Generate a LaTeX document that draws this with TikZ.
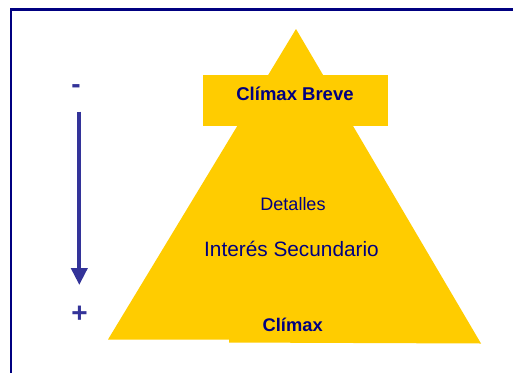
\documentclass[tikz,border=0pt]{standalone}
\usepackage{fontspec}
\setmainfont{Liberation Sans}
\usetikzlibrary{arrows.meta}
\definecolor{gold}{RGB}{255,204,0}
\definecolor{navyc}{RGB}{0,0,128}
\definecolor{arrowc}{RGB}{51,51,153}
\tikzset{
  frame/.style={draw=navyc, line width=2.6pt},
  shapefill/.style={fill=gold, draw=none},
  lbl/.style={text=navyc, inner sep=0pt, anchor=base},
  sign/.style={text=arrowc, inner sep=0pt, anchor=base, font=\bfseries\fontsize{28}{30}\selectfont},
  axis/.style={draw=arrowc, line width=4pt, -{Triangle[length=17pt,width=16pt]}}
}
\begin{document}
\begin{tikzpicture}[x=1pt,y=-1pt]
\useasboundingbox (0,0) rectangle (513,372);
\fill[white] (0,0) rectangle (513,372);
\draw[frame] (11,9.5) rectangle (530,390);
% pyramid
\fill[shapefill] (296,29) -- (481,343.5) -- (229,342.5) -- (229,339.5) -- (108,339.5) -- cycle;
\fill[shapefill] (203,75) rectangle (388,126);
% labels
\node[lbl, font=\bfseries\fontsize{18.5}{20}\selectfont] (breve) at (295,100.7) {Clímax Breve};
\node[lbl, font=\fontsize{18}{20}\selectfont] (det) at (293,210) {Detalles};
\node[lbl, font=\fontsize{20.8}{23}\selectfont] (sec) at (291.5,256) {Interés Secundario};
\node[lbl, font=\bfseries\fontsize{18.3}{20}\selectfont] (clim) at (292.7,331) {Clímax};
% axis
\node[sign] (minus) at (76,93) {-};
\node[sign] (plus) at (79.5,322) {+};
\coordinate (atop) at (79.3,111.7);
\coordinate (abot) at (79.3,285);
\draw[axis] (atop) -- (abot);
\end{tikzpicture}
\end{document}
